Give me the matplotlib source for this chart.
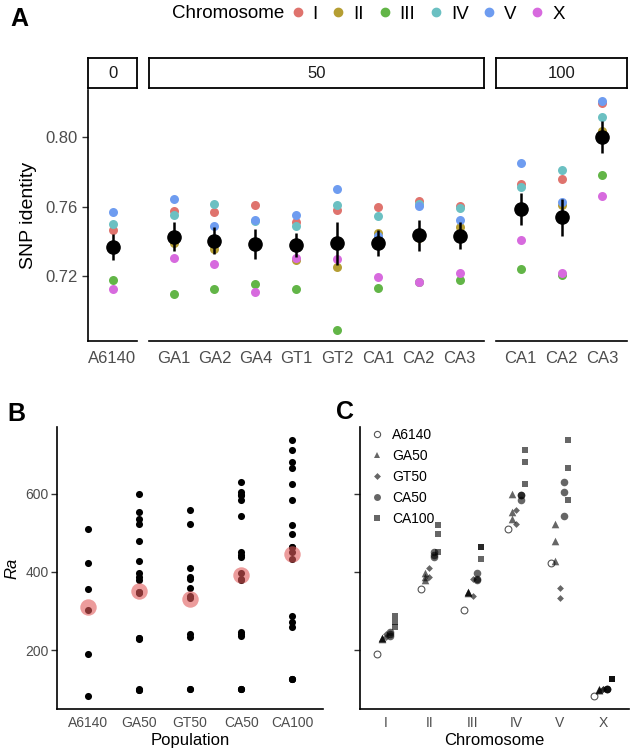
import matplotlib.pyplot as plt
import numpy as np
from matplotlib.lines import Line2D

plt.rcParams['font.family'] = ['Liberation Sans', 'DejaVu Sans']

# ---- panel A data: SNP identity per replicate line, per chromosome
rep_labels = ["A6140", "GA1", "GA2", "GA4", "GT1", "GT2", "CA1", "CA2", "CA3", "CA1", "CA2", "CA3"]
rep_facet = ["0", "50", "50", "50", "50", "50", "50", "50", "50", "100", "100", "100"]
facet_names = ["0", "50", "100"]
chrom_names = ["I", "II", "III", "IV", "V", "X"]
chrom_colors = ["#DF736D", "#B59E33", "#62B547", "#6BC0C2", "#6E9CF0", "#D76ADE"]

snp_I = [0.7465, 0.7572, 0.7567, 0.7611, 0.7511, 0.7580, 0.7598, 0.7632, 0.7605, 0.7728, 0.7760, 0.8198]
snp_II = [0.7360, 0.7390, 0.7355, 0.7390, 0.7295, 0.7254, 0.7447, 0.7420, 0.7480, 0.7580, 0.7607, 0.8035]
snp_III = [0.7179, 0.7098, 0.7124, 0.7154, 0.7124, 0.6892, 0.7133, 0.7165, 0.7176, 0.7243, 0.7205, 0.7784]
snp_IV = [0.7499, 0.7549, 0.7615, 0.7518, 0.7488, 0.7609, 0.7543, 0.7615, 0.7594, 0.7711, 0.7811, 0.8114]
snp_V = [0.7569, 0.7642, 0.7488, 0.7524, 0.7549, 0.7702, 0.7432, 0.7603, 0.7524, 0.7848, 0.7624, 0.8205]
snp_X = [0.7125, 0.7303, 0.7268, 0.7110, 0.7303, 0.7301, 0.7193, 0.7168, 0.7218, 0.7405, 0.7220, 0.7663]
snp = np.array([snp_I, snp_II, snp_III, snp_IV, snp_V, snp_X])

# ---- panels B/C data: Ra per population, per chromosome (replicates)
pops = ["A6140", "GA50", "GT50", "CA50", "CA100"]
ra_a6140 = [[190], [355], [303], [510], [422], [82]]
ra_ga50 = [[229, 231, 232], [396, 388, 379], [349, 349, 345], [600, 553, 536], [522, 479, 428], [97, 99, 100]]
ra_gt50 = [[233, 240], [409, 388], [383, 338], [559, 522], [358, 334], [100, 100]]
ra_ca50 = [[237, 240, 245], [451, 443, 438], [396, 381, 379], [596, 596, 583], [630, 604, 542], [100, 100, 101]]
ra_ca100 = [[286, 273, 260], [519, 496, 451], [464, 464, 434], [713, 682, 625], [738, 666, 583], [126, 126, 126]]
ra_all = [ra_a6140, ra_ga50, ra_gt50, ra_ca50, ra_ca100]

W, H = 633, 752
fig = plt.figure(figsize=(W / 100, H / 100), dpi=100)
grey = "#4D4D4D"


def px_axes(x0, y0, x1, y1):
    return fig.add_axes([x0 / W, 1 - y1 / H, (x1 - x0) / W, (y1 - y0) / H])


def style(ax, left=True):
    for s in ["top", "right"]:
        ax.spines[s].set_visible(False)
    ax.spines["left"].set_visible(left)
    ax.spines["bottom"].set_linewidth(1.2)
    ax.spines["left"].set_linewidth(1.2)
    ax.tick_params(axis="x", length=0, colors=grey)
    ax.tick_params(axis="y", length=4, width=1, color="#333333", colors=grey)


# ---------------- panel A
means = snp.mean(axis=0)
ses = snp.std(axis=0, ddof=1) / np.sqrt(snp.shape[0])
lo = min(snp.min(), (means - ses).min())
hi = max(snp.max(), (means + ses).max())
pad = (hi - lo) * 0.05

ncats = [rep_facet.count(f) for f in facet_names]
left_px, right_px, gap = 88, 627, 12
unit = (right_px - left_px - gap * (len(facet_names) - 1)) / sum(n + 0.2 for n in ncats)
x0 = left_px
for fi, f in enumerate(facet_names):
    idx = [i for i, r in enumerate(rep_facet) if r == f]
    w = unit * (len(idx) + 0.2)
    ax = px_axes(x0, 90, x0 + w, 341)
    style(ax, left=(fi == 0))
    xs = np.arange(len(idx))
    for c in range(len(chrom_names)):
        ax.scatter(xs, snp[c, idx], s=42, color=chrom_colors[c], lw=0, zorder=2)
    ax.errorbar(xs, means[idx], yerr=ses[idx], fmt="o", color="black", ms=9.5,
                elinewidth=1.8, capsize=0, zorder=3)
    ax.set_xlim(-0.6, len(idx) - 0.4)
    ax.set_ylim(lo - pad, hi + pad)
    ax.set_xticks(xs)
    ax.set_xticklabels([rep_labels[i] for i in idx], fontsize=12)
    ax.tick_params(axis="x", pad=7)
    if fi == 0:
        ax.set_yticks([0.72, 0.76, 0.80])
        ax.set_yticklabels(["0.72", "0.76", "0.80"], fontsize=12)
        ax.set_ylabel("SNP identity", fontsize=14, labelpad=6)
    else:
        ax.set_yticks([])
    # strip
    sax = px_axes(x0, 58, x0 + w, 88)
    sax.set_xticks([])
    sax.set_yticks([])
    for s in sax.spines.values():
        s.set_linewidth(1.3)
    sax.text(0.5, 0.5, f, ha="center", va="center", fontsize=12, color="#1A1A1A",
             transform=sax.transAxes)
    x0 += w + gap

# legend for panel A
fig.text(172 / W, 1 - 14 / H, "Chromosome", fontsize=13.5, va="center", ha="left")
handles = [Line2D([], [], marker="o", ls="", ms=6, color=c) for c in chrom_colors]
fig.legend(handles, chrom_names, loc="center left", bbox_to_anchor=(290 / W, 1 - 14 / H),
           ncol=6, frameon=False, fontsize=13.5, handlelength=0.8, handletextpad=0.4,
           columnspacing=0.7, borderpad=0, borderaxespad=0)

fig.text(10 / W, 1 - 19 / H, "A", fontsize=18, fontweight="bold", va="center")
fig.text(7 / W, 1 - 414 / H, "B", fontsize=18, fontweight="bold", va="center")
fig.text(336 / W, 1 - 412 / H, "C", fontsize=18, fontweight="bold", va="center")

# ---------------- panel B
flat = [v for pop in ra_all for chrom in pop for v in chrom]
ra_lo, ra_hi = min(flat), max(flat)
ra_pad = (ra_hi - ra_lo) * 0.05

axb = px_axes(57, 427, 323, 709)
style(axb)
for i, pop in enumerate(ra_all):
    vals = [v for chrom in pop for v in chrom]
    axb.scatter([i] * len(vals), vals, s=26, color="black", lw=0, zorder=2)
    axb.scatter([i], [np.mean(vals)], s=140, color="#E05A5A", alpha=0.6, lw=0, zorder=3)
axb.set_xlim(-0.6, len(pops) - 0.4)
axb.set_ylim(ra_lo - ra_pad, ra_hi + ra_pad)
axb.set_xticks(range(len(pops)))
axb.set_xticklabels(pops, fontsize=10)
axb.set_yticks([200, 400, 600])
axb.tick_params(axis="y", labelsize=10, pad=2)
axb.tick_params(axis="x", pad=5)
axb.set_xlabel("Population", fontsize=12, labelpad=2)
axb.set_ylabel("Ra", fontsize=12, style="italic", labelpad=4)

# ---------------- panel C
axc = px_axes(360, 427, 629, 709)
style(axc)
offsets = [-0.2, -0.1, 0.0, 0.1, 0.2]
markers = ["o", "^", "D", "o", "s"]
sizes = [24, 30, 12, 30, 24]
for j, pop in enumerate(ra_all):
    xs, ys = [], []
    for k, chrom in enumerate(pop):
        xs += [k + offsets[j]] * len(chrom)
        ys += chrom
    if j == 0:
        axc.scatter(xs, ys, s=sizes[j], marker=markers[j], facecolors="white",
                    edgecolors="#555555", linewidths=0.8, zorder=2)
    else:
        axc.scatter(xs, ys, s=sizes[j], marker=markers[j], color="black", alpha=0.6,
                    lw=0, zorder=2)
axc.set_xlim(-0.6, len(chrom_names) - 0.4)
axc.set_ylim(ra_lo - ra_pad, ra_hi + ra_pad)
axc.set_xticks(range(len(chrom_names)))
axc.set_xticklabels(chrom_names, fontsize=10)
axc.set_yticks([200, 400, 600])
axc.set_yticklabels([])
axc.tick_params(axis="x", pad=5)
axc.set_xlabel("Chromosome", fontsize=12, labelpad=2)

leg_handles = []
for j in range(len(pops)):
    if j == 0:
        leg_handles.append(Line2D([], [], marker="o", ls="", ms=4.5, mfc="white",
                                  mec="#555555", mew=0.8))
    else:
        leg_handles.append(Line2D([], [], marker=markers[j], ls="", ms=[0, 5, 3.5, 5, 4.5][j],
                                  color="black", alpha=0.6, mew=0))
axc.legend(leg_handles, pops, loc="upper left", bbox_to_anchor=(0.0, 1.03), frameon=False,
           fontsize=10, handlelength=1.0, handletextpad=0.6, labelspacing=0.5,
           borderpad=0.2)

fig.savefig("out.png", dpi=100)
